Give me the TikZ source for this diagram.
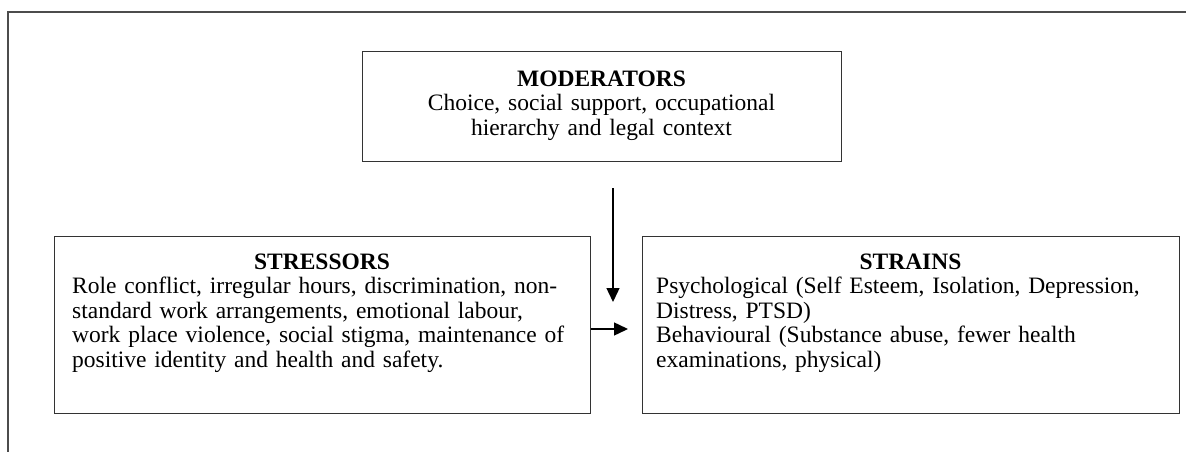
\documentclass[tikz,border=0pt]{standalone}
\usepackage{fontspec}
\setmainfont{Liberation Serif}
\usetikzlibrary{arrows.meta}
\begin{document}
\begin{tikzpicture}[x=1pt,y=-1pt,
  every node/.style={font=\fontsize{23.5}{24.5}\selectfont, inner sep=0pt},
  box/.style={draw=black!80, line width=1.3pt, anchor=north west},
  frameline/.style={draw=black!70, line width=1.5pt},
  arr/.style={draw=black, line width=1.4pt, -{Triangle[length=14pt,width=13pt]}},
  body/.style={anchor=base west, text width=520pt, align=left},
  head/.style={anchor=base, font=\fontsize{23.5}{24.5}\selectfont\bfseries}]
\useasboundingbox (0,0) rectangle (1186,452);
% outer frame
\coordinate (f-tr) at (1186,12);
\coordinate (f-tl) at (8,12);
\coordinate (f-bl) at (8,452);
\draw[frameline] (f-tr) -- (f-tl) -- (f-bl);
% boxes
\node[box, minimum width=479pt, minimum height=110pt] (moderators) at (362,51) {};
\node[box, minimum width=536pt, minimum height=177pt] (stressors) at (54,236) {};
\node[box, minimum width=537pt, minimum height=177pt] (strains) at (642,236) {};
% texts
\node[anchor=base, text width=470pt, align=center] (modtext) at (601.5,86)
  {\textbf{MODERATORS}\\Choice, social support, occupational\\hierarchy and legal context};
\node[head] (stresshead) at (322,269) {STRESSORS};
\node[body] (stresstext) at (72,293.5)
  {Role conflict, irregular hours, discrimination, non-\\standard work arrangements, emotional labour,\\work place violence, social stigma, maintenance of\\positive identity and health and safety.};
\node[head] (strainhead) at (910.5,269) {STRAINS};
\node[body] (straintext) at (656,293.5)
  {Psychological (Self Esteem, Isolation, Depression,\\Distress, PTSD)\\Behavioural (Substance abuse, fewer health\\examinations, physical)};
% arrows
\coordinate (v-start) at (613,188);
\coordinate (v-end) at (613,302);
\coordinate (h-end) at (628,329);
\draw[arr] (v-start) -- (v-end);
\draw[arr] (stressors.east |- h-end) -- (h-end);
\end{tikzpicture}
\end{document}
